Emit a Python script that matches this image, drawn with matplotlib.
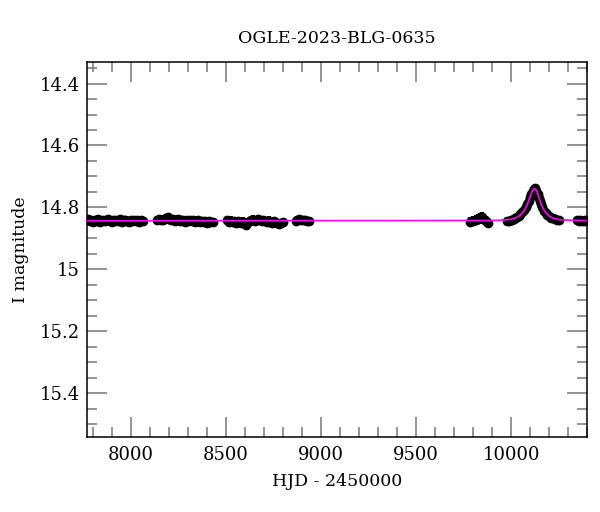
import matplotlib
matplotlib.use("Agg")
import matplotlib.pyplot as plt
from matplotlib.ticker import MultipleLocator, FuncFormatter

plt.rcParams["font.family"] = ["DejaVu Serif"]

# ---- photometry, one list per observing season (HJD - 2450000, I mag, error)
t_s1 = [7776, 7785, 7793, 7802, 7811, 7820, 7829, 7838, 7846, 7855, 7864, 7873, 7882, 7891, 7900, 7909, 7918,
        7927, 7936, 7945, 7954, 7963, 7972, 7981, 7990, 7999, 8008, 8017, 8026, 8035, 8044, 8053, 8062]
m_s1 = [14.838, 14.845, 14.839, 14.846, 14.841, 14.844, 14.838, 14.847, 14.843, 14.840, 14.845, 14.842, 14.836,
        14.844, 14.848, 14.841, 14.839, 14.845, 14.843, 14.838, 14.846, 14.842, 14.840, 14.844, 14.847, 14.841,
        14.843, 14.839, 14.845, 14.842, 14.846, 14.840, 14.844]

t_s2 = [8140, 8149, 8158, 8167, 8176, 8185, 8194, 8203, 8212, 8221, 8230, 8239, 8248, 8257, 8266, 8275, 8284,
        8293, 8302, 8311, 8320, 8329, 8338, 8347, 8356, 8365, 8374, 8383, 8392, 8401, 8410, 8419, 8430]
m_s2 = [14.840, 14.837, 14.842, 14.839, 14.836, 14.833, 14.830, 14.836, 14.840, 14.838, 14.843, 14.841, 14.837,
        14.844, 14.840, 14.842, 14.846, 14.839, 14.843, 14.841, 14.845, 14.842, 14.847, 14.844, 14.841, 14.846,
        14.843, 14.848, 14.845, 14.849, 14.844, 14.846, 14.848]

t_s3 = [8508, 8517, 8526, 8535, 8544, 8553, 8562, 8571, 8580, 8589, 8598, 8607, 8616, 8625, 8634, 8643, 8652,
        8661, 8670, 8679, 8688, 8697, 8706, 8715, 8724, 8733, 8742, 8751, 8760, 8769, 8778, 8787, 8798]
m_s3 = [14.842, 14.846, 14.843, 14.848, 14.845, 14.849, 14.844, 14.847, 14.850, 14.846, 14.852, 14.855, 14.848,
        14.845, 14.842, 14.839, 14.843, 14.840, 14.838, 14.842, 14.845, 14.841, 14.844, 14.847, 14.843, 14.846,
        14.849, 14.844, 14.847, 14.850, 14.853, 14.851, 14.847]

t_s4 = [8866, 8876, 8886, 8896, 8906, 8916, 8926, 8936]
m_s4 = [14.843, 14.840, 14.838, 14.841, 14.839, 14.842, 14.845, 14.843]

t_s5 = [9781, 9790, 9799, 9808, 9817, 9826, 9835, 9844, 9853, 9862, 9871, 9880]
m_s5 = [14.846, 14.844, 14.843, 14.841, 14.839, 14.836, 14.832, 14.830, 14.836, 14.842, 14.847, 14.849]

t_s6 = [9978, 9987, 9996, 10004, 10012, 10021, 10030, 10039, 10048, 10057, 10066, 10075, 10084, 10093, 10100,
        10106, 10112, 10117, 10122, 10127, 10132, 10138, 10144, 10150, 10157, 10164, 10172, 10181, 10190, 10200,
        10210, 10220, 10230, 10240, 10250]
m_s6 = [14.845, 14.843, 14.841, 14.840, 14.837, 14.834, 14.830, 14.826, 14.820, 14.815, 14.808, 14.800, 14.790,
        14.778, 14.767, 14.757, 14.747, 14.741, 14.738, 14.741, 14.747, 14.757, 14.768, 14.779, 14.790, 14.800,
        14.810, 14.818, 14.824, 14.829, 14.833, 14.835, 14.837, 14.839, 14.840]

t_s7 = [10345, 10354, 10363, 10372, 10381, 10390, 10399]
m_s7 = [14.842, 14.844, 14.841, 14.843, 14.845, 14.842, 14.844]

err_s1, err_s2, err_s3, err_s4, err_s5, err_s6, err_s7 = 0.013, 0.013, 0.014, 0.012, 0.014, 0.012, 0.008

# ---- model light curve
t_model = [7700, 9900, 9950, 10000, 10022, 10042, 10057, 10067, 10077, 10087, 10097, 10104, 10110, 10116, 10122,
           10128, 10134, 10140, 10147, 10157, 10167, 10177, 10187, 10202, 10222, 10250, 10300, 10450]
m_model = [14.843, 14.842, 14.841, 14.838, 14.834, 14.827, 14.819, 14.811, 14.800, 14.786, 14.769, 14.757, 14.747,
           14.741, 14.739, 14.741, 14.747, 14.757, 14.771, 14.789, 14.803, 14.813, 14.821, 14.829, 14.835, 14.839,
           14.841, 14.843]

seasons = [(t_s1, m_s1, err_s1), (t_s2, m_s2, err_s2), (t_s3, m_s3, err_s3), (t_s4, m_s4, err_s4),
           (t_s5, m_s5, err_s5), (t_s6, m_s6, err_s6), (t_s7, m_s7, err_s7)]

fig = plt.figure(figsize=(6.0, 5.12), dpi=100)
ax = fig.add_axes([0.145, 0.147, 0.834, 0.731])

for t, m, e in seasons:
    ax.errorbar(t, m, yerr=e, fmt="o", color="black", ms=6, elinewidth=3, capsize=0, zorder=2)

ax.plot(t_model, m_model, color="#ff00ff", lw=1.2, zorder=3)

ax.set_xlim(7770, 10400)
ax.set_ylim(15.54, 14.332)

ax.xaxis.set_major_locator(MultipleLocator(500))
ax.xaxis.set_minor_locator(MultipleLocator(100))
ax.yaxis.set_major_locator(MultipleLocator(0.2))
ax.yaxis.set_minor_locator(MultipleLocator(0.05))
ax.yaxis.set_major_formatter(FuncFormatter(lambda v, p: "%g" % round(v, 2)))

ax.tick_params(which="both", direction="in", top=True, right=True, color="#777777",
               width=1.1, labelsize=13, labelcolor="black")
ax.tick_params(which="major", length=14.4)
ax.tick_params(which="minor", length=7.2)
ax.tick_params(axis="x", which="major", pad=7)
ax.tick_params(axis="y", which="major", pad=5)
for s in ax.spines.values():
    s.set_linewidth(1.1)
    s.set_color("black")

ax.set_xlabel("HJD - 2450000", fontsize=12.5, labelpad=6)
ax.set_ylabel("I magnitude", fontsize=12.5, labelpad=8)
ax.set_title("OGLE-2023-BLG-0635", fontsize=12.5, pad=14)

fig.savefig("out.png", dpi=100)
